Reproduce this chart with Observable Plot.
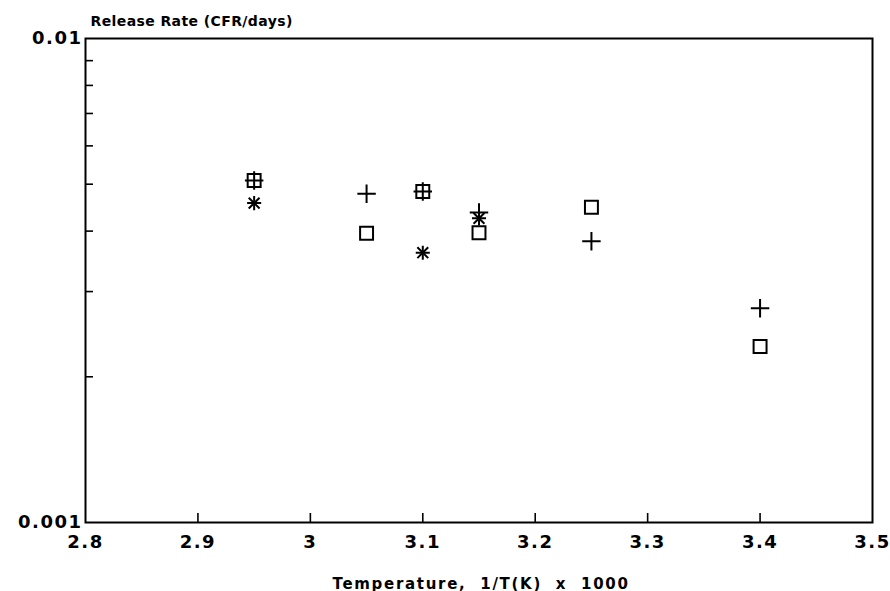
<!DOCTYPE html>
<html>
<head>
<meta charset="utf-8">
<script src="https://cdn.jsdelivr.net/npm/d3@7"></script>
<script src="https://cdn.jsdelivr.net/npm/@observablehq/plot@0.6"></script>
<style>
  html, body { margin: 0; padding: 0; background: white; }
  svg { display: block; }
</style>
</head>
<body>
<div id="chart"></div>
<script>
// Data
const tempX = [2.95, 3.05, 3.1, 3.15, 3.25, 3.4];
const plusRate = [0.00509, 0.00478, 0.00483, 0.00437, 0.00381, 0.00277];
const squareRate = [0.00509, 0.00396, 0.00483, 0.00397, 0.00448, 0.00231];
const starX = [2.95, 3.1, 3.15];
const starRate = [0.00457, 0.00361, 0.00425];

// Axis ticks and labels
const xTickLabels = [2.8, 2.9, 3, 3.1, 3.2, 3.3, 3.4, 3.5];
const xInnerTicks = [2.9, 3, 3.1, 3.2, 3.3, 3.4];
const yTickLabels = [0.001, 0.01];
const yInnerTicks = [0.002, 0.003, 0.004, 0.005, 0.006, 0.007, 0.008, 0.009];
const yTitle = "Release Rate (CFR/days)";
const xTitle = "Temperature,  1/T(K)  x  1000";

const plusData = tempX.map((x, i) => ({x, y: plusRate[i]}));
const squareData = tempX.map((x, i) => ({x, y: squareRate[i]}));
const starData = starX.map((x, i) => ({x, y: starRate[i]}));

const chart = Plot.plot({
  width: 890,
  height: 591,
  marginLeft: 85,
  marginRight: 18,
  marginTop: 38,
  marginBottom: 69,
  style: {fontFamily: "'DejaVu Sans', 'Liberation Sans', Arial, sans-serif", color: "black", background: "white"},
  x: {domain: [2.8, 3.5]},
  y: {type: "log", domain: [0.001, 0.01]},
  marks: [
    Plot.frame({stroke: "black", strokeWidth: 2}),
    Plot.axisX(xTickLabels, {tickSize: 0, tickPadding: 13, fontSize: 18, fontWeight: "bold", label: null, tickFormat: d => String(d), dx: 0}),
    Plot.axisX(xInnerTicks, {tickSize: -9, strokeWidth: 1.6, tickFormat: () => "", label: null}),
    Plot.axisY(yTickLabels, {tickSize: 0, tickPadding: 3, fontSize: 18, fontWeight: "bold", label: null, tickFormat: d => String(d), dx: 0}),
    Plot.axisY(yInnerTicks, {tickSize: -8, strokeWidth: 1.6, tickFormat: () => "", label: null}),
    Plot.text([yTitle], {frameAnchor: "top-left", text: d => d, textAnchor: "start", lineAnchor: "bottom", dx: 5, dy: -13, fontSize: 14, fontWeight: "bold"}),
    Plot.text([xTitle], {frameAnchor: "bottom", text: d => d, textAnchor: "middle", lineAnchor: "bottom", dy: 66, dx: 2, fontSize: 15, fontWeight: "bold"}),
    Plot.dot(squareData, {x: "x", y: "y", symbol: "square", r: 7.3, fill: "none", stroke: "black", strokeWidth: 2}),
    Plot.dot(plusData, {x: "x", y: "y", symbol: "plus", r: 6, stroke: "black", strokeWidth: 2}),
    Plot.dot(starData, {x: "x", y: "y", symbol: "plus", r: 4.6, stroke: "black", strokeWidth: 2}),
    Plot.dot(starData, {x: "x", y: "y", symbol: "times", r: 5, stroke: "black", strokeWidth: 2})
  ]
});
// Letter spacing adjustments for the titles and tick labels
const tickTexts = new Set([...xTickLabels, ...yTickLabels].map(String));
d3.select(chart).selectAll("text").each(function() {
  const t = this.textContent;
  if (t === xTitle) { this.setAttribute("letter-spacing", "1.7"); this.style.whiteSpace = "pre"; }
  else if (t === yTitle) this.setAttribute("letter-spacing", "0.4");
  else if (tickTexts.has(t)) this.setAttribute("letter-spacing", "1.5");
});
document.getElementById("chart").appendChild(chart);
</script>
</body>
</html>
